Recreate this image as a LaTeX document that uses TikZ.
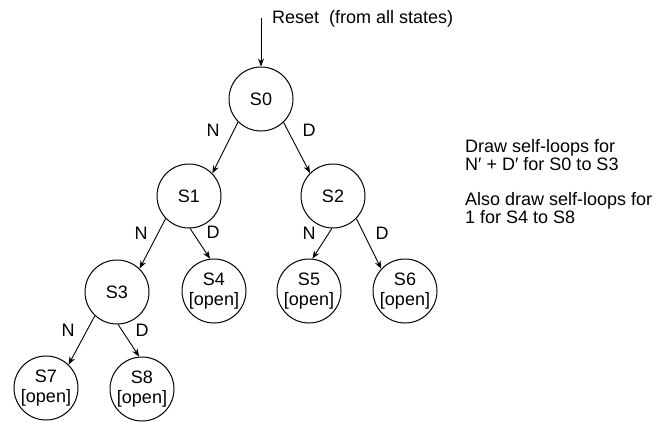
\documentclass[tikz,border=0pt]{standalone}
\usepackage{fontspec}
\setmainfont{Liberation Sans}
\usetikzlibrary{arrows.meta}
\begin{document}
\begin{tikzpicture}[x=1pt,y=-1pt,
  every node/.style={font=\fontsize{18}{20}\selectfont},
  state/.style={circle,draw,line width=1pt,minimum size=64pt,inner sep=0pt,align=center},
  lbl/.style={inner sep=0pt},
  note/.style={inner sep=0pt,anchor=base west},
  tr/.style={line width=0.9pt,-{Stealth[length=8pt,width=6pt]}}]
\useasboundingbox (0,0) rectangle (659,421);
\node[state] (S0) at (261,99) {S0};
\node[state] (S1) at (189,196) {S1};
\node[state] (S2) at (333,196) {S2};
\node[state] (S3) at (117,292) {S3};
\node[state] (S4) at (214,291) {S4\\{}[open]};
\node[state] (S5) at (309,291) {S5\\{}[open]};
\node[state] (S6) at (405,291) {S6\\{}[open]};
\node[state] (S7) at (46,388) {S7\\{}[open]};
\node[state] (S8) at (142,389) {S8\\{}[open]};
\coordinate (rs) at (261,18);
\draw[tr] (rs) -- (S0.north);
\node[note] (rt) at (272,23) {Reset\ \ (from all states)};
\draw[tr] (S0.-135) -- (S1.44);
\draw[tr] (S0.-46) -- (S2.135);
\draw[tr] (S1.-136) -- (S3.46);
\draw[tr] (S1.-88) -- (S4.97);
\draw[tr] (S2.-92) -- (S5.84);
\draw[tr] (S2.-44) -- (S6.137);
\draw[tr] (S3.-133) -- (S7.46);
\draw[tr] (S3.-88) -- (S8.95);
\node[lbl] (n0) at (213,130) {N};
\node[lbl] (d0) at (309,130) {D};
\node[lbl] (n1) at (141,233) {N};
\node[lbl] (d1) at (213,232) {D};
\node[lbl] (n2) at (309,233) {N};
\node[lbl] (d2) at (382,233) {D};
\node[lbl] (n3) at (68,330) {N};
\node[lbl] (d3) at (142,330) {D};
\node[note] (t1) at (465,152) {Draw self-loops for};
\node[note] (t2) at (465,170) {N′ + D′ for S0 to S3};
\node[note] (t3) at (465,205) {Also draw self-loops for};
\node[note] (t4) at (465,223) {1 for S4 to S8};
\end{tikzpicture}
\end{document}
